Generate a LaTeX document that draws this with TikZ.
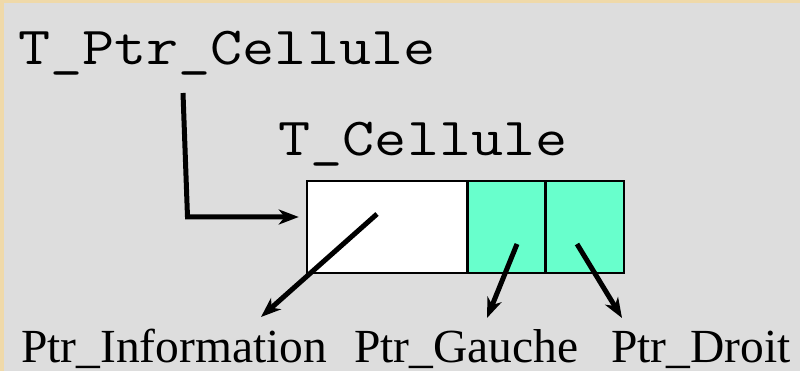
\documentclass[tikz,border=0pt]{standalone}
\usepackage{fontspec}
\setmainfont{Liberation Serif}
\setmonofont[FakeStretch=1.165]{Latin Modern Mono}
\usetikzlibrary{arrows.meta}
\definecolor{bgray}{HTML}{DDDDDD}
\definecolor{beige}{HTML}{EFD9A9}
\definecolor{cellgreen}{HTML}{68FFCC}
\tikzset{
  monolabel/.style={font=\ttfamily\fontsize{53.5}{60}\selectfont, anchor=base west, inner sep=0pt},
  seriflabel/.style={font=\fontsize{47.5}{55}\selectfont, anchor=base west, inner sep=0pt},
  cellbox/.style={draw=black, line width=2.5pt, inner sep=0pt, minimum height=92pt},
  ptr/.style={line width=5pt, -{Stealth[length=20pt,width=15pt,inset=6pt]}},
}
\begin{document}
\begin{tikzpicture}[x=1pt,y=-1pt]
\fill[beige] (0,0) rectangle (800,371);
\fill[bgray] (4,3) rectangle (800,371);
\useasboundingbox (0,0) rectangle (800,371);

% texts
\node[monolabel] (tptr) at (18,65) {T\_Ptr\_Cellule};
\node[monolabel] (tcell) at (278.5,156) {T\_Cellule};
\node[seriflabel] (info) at (21,362) {Ptr\_Information};
\node[seriflabel] (gauche) at (354,362) {Ptr\_Gauche};
\node[seriflabel] (droit) at (611,362) {Ptr\_Droit};

% cells
\node[cellbox, fill=white, minimum width=160.5pt] (cinfo) at (387.25,227) {};
\node[cellbox, fill=cellgreen, minimum width=78pt] (cg) at (506.5,227) {};
\node[cellbox, fill=cellgreen, minimum width=78.5pt] (cd) at (584.75,227) {};

% pointer coordinates
\coordinate (a1) at (183,93);
\coordinate (a2) at (187.5,217);
\coordinate (s1) at (377,214);
\coordinate (t1) at (261,317);
\coordinate (s2) at (517,244);
\coordinate (t2) at (487,318);
\coordinate (s3) at (577,244);
\coordinate (t3) at (622,318);

% connectors
\draw[ptr, shorten >=7pt] (a1) -- (a2) -- (a2 -| cinfo.west);
\draw[ptr] (s1) -- (t1);
\draw[ptr] (s2) -- (t2);
\draw[ptr] (s3) -- (t3);
\end{tikzpicture}
\end{document}
